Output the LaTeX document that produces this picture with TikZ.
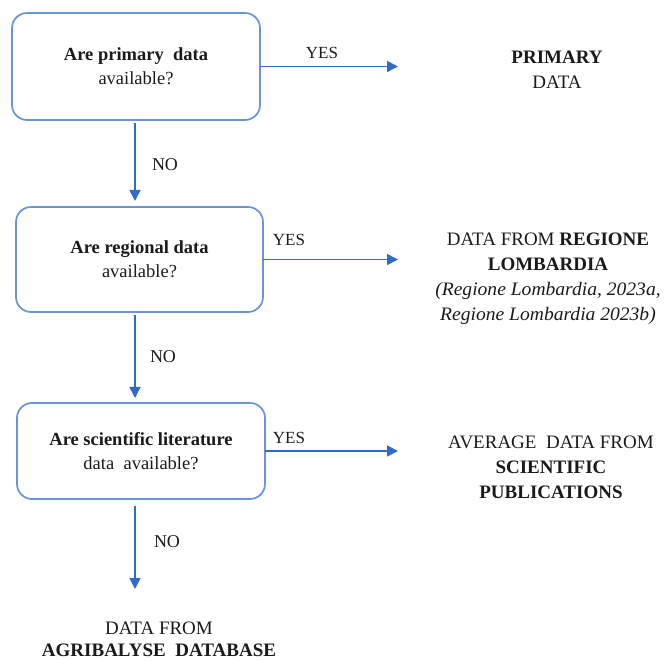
\documentclass[tikz,border=0pt]{standalone}
\usepackage{fontspec}
\setmainfont{Liberation Serif}
\newfontfamily\citefont[FakeStretch=1.03]{Liberation Serif}
\usetikzlibrary{arrows.meta}
\definecolor{boxline}{HTML}{6A95D8}
\definecolor{arrowblue}{HTML}{2F6CC6}
\definecolor{ink}{HTML}{1A1A1A}

\begin{document}
\begin{tikzpicture}[x=1pt,y=-1pt,
  every node/.style={text=ink, inner sep=0pt, outer sep=0pt},
  question/.style={draw=boxline, line width=1.7pt, rounded corners=15pt,
    align=center, font=\fontsize{18.5}{24}\selectfont},
  outcome/.style={align=center, font=\fontsize{19}{25}\selectfont},
  flow/.style={draw=arrowblue, line width=1.6pt,
    -{Triangle[length=11pt,width=11pt]}},
  answer/.style={font=\fontsize{17}{20}\selectfont}]

\useasboundingbox (0,0) rectangle (667,660);

% decision boxes
\node[question, minimum width=248pt, minimum height=107pt] (b1) at (136,66.5)
  {\textbf{Are primary\ \ data}\\ available?};
\node[question, minimum width=247pt, minimum height=105pt] (b2) at (139.5,259.5)
  {\textbf{Are regional data}\\ available?};
\node[question, minimum width=248pt, minimum height=96pt] (b3) at (141,451)
  {\textbf{Are scientific literature}\\ data\ \ available?};

% outcomes
\node[outcome] (r1) at (557,70) {\textbf{PRIMARY}\\ DATA};
\node[outcome] (r2) at (548,279)
  {DATA FROM \textbf{REGIONE}\\ \textbf{LOMBARDIA}\\
   {\citefont\itshape (Regione Lombardia, 2023a,}\\
   {\citefont\itshape Regione Lombardia 2023b)}};
\node[outcome] (r3) at (551,467)
  {AVERAGE\ \ DATA FROM\\ \textbf{SCIENTIFIC}\\ \textbf{PUBLICATIONS}};
\node[outcome, font=\fontsize{19}{22}\selectfont] (r4) at (159,639)
  {DATA FROM\\ \textbf{AGRIBALYSE\ \ DATABASE}};

% arrow tips
\coordinate (tx) at (398,0);
\coordinate (t1) at (b1.east -| tx);
\coordinate (t2) at (b2.east -| tx);
\coordinate (t3) at (b3.east -| tx);
\coordinate (d3) at (135,589);

% YES branches
\draw[flow] (b1.east) -- (t1);
\draw[flow] (b2.east) -- (t2);
\draw[flow] (b3.east) -- (t3);
\node[answer] (y1) at (322,53) {YES};
\node[answer] (y2) at (289,240) {YES};
\node[answer] (y3) at (289,438) {YES};

% NO branches
\draw[flow] ([yshift=-3pt]b1.south -| d3) -- ([yshift=6pt]b2.north -| d3);
\draw[flow] ([yshift=-3pt]b2.south -| d3) -- ([yshift=5pt]b3.north -| d3);
\draw[flow] ([yshift=-7pt]b3.south -| d3) -- (d3);
\node[answer, font=\fontsize{18}{20}\selectfont] (n1) at (165,165) {NO};
\node[answer, font=\fontsize{18}{20}\selectfont] (n2) at (163,357) {NO};
\node[answer, font=\fontsize{18}{20}\selectfont] (n3) at (167,542) {NO};
\end{tikzpicture}
\end{document}
